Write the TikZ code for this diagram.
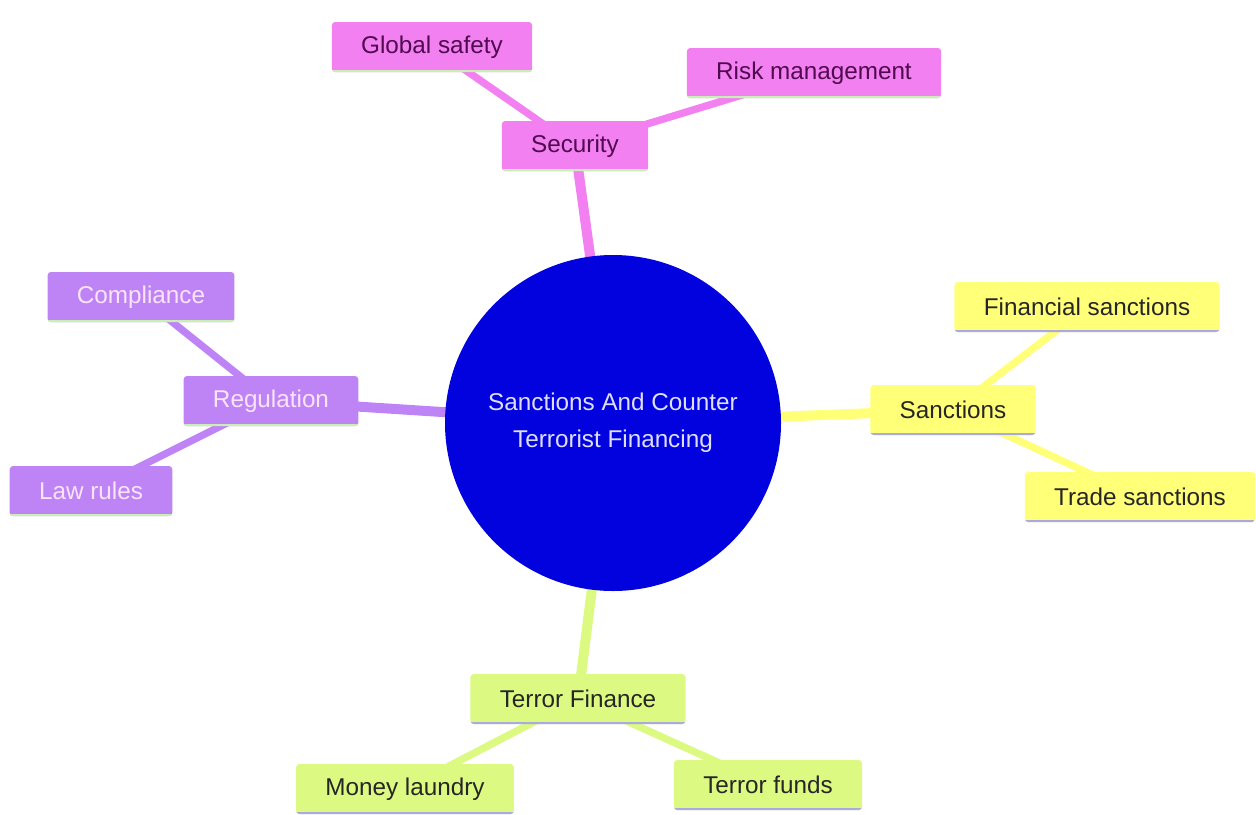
\documentclass[tikz,border=0pt]{standalone}
\usepackage{fontspec}
\setmainfont{Liberation Sans}
\usetikzlibrary{backgrounds}

\definecolor{secpink}{RGB}{242,128,240}
\definecolor{regpurple}{RGB}{190,132,246}
\definecolor{sanyellow}{RGB}{255,255,120}
\definecolor{tergreen}{RGB}{220,250,130}
\definecolor{hubblue}{RGB}{2,2,222}
\definecolor{shadegreen}{RGB}{200,240,180}
\definecolor{shadeblue}{RGB}{170,170,225}

\tikzset{every picture/.style={line width=0.75pt}}
\tikzset{
  topic/.style={rectangle, rounded corners=2.5pt, inner xsep=22pt, minimum height=37.5pt,
    font=\fontsize{18.2}{22}\selectfont},
  shadeline/.style={path picture={\draw[line width=3.5pt,#1]
    (path picture bounding box.south west) -- (path picture bounding box.south east);}},
  sec/.style={topic, fill=secpink, text={rgb,255:red,80;green,10;blue,80}, shadeline=shadegreen},
  reg/.style={topic, fill=regpurple, text={rgb,255:red,250;green,228;blue,250}, shadeline=shadegreen},
  san/.style={topic, fill=sanyellow, text=black!85, shadeline=shadeblue},
  ter/.style={topic, fill=tergreen, text=black!85, shadeline=shadeblue},
  mainlink/.style={line width=7.5pt},
  sublink/.style={line width=5.5pt}
}

\begin{document}
\begin{tikzpicture}[x=0.75pt,y=0.75pt,yscale=-1,xscale=1]
\useasboundingbox (0,0) rectangle (1256,814);

% Hub
\node (hub) [circle, fill=hubblue, minimum size=252pt, align=center,
  text={rgb,255:red,222;green,222;blue,255}, font=\fontsize{18.2}{27.75}\selectfont]
  at (613,423) {Sanctions And Counter\\Terrorist Financing};

% Text Node
\node (security) [sec] at (575,146) {Security};
\node (globalsafety) [sec] at (432,47) {Global safety};
\node (riskmgmt) [sec] at (814,73) {Risk management};
% Text Node
\node (regulation) [reg] at (271,401) {Regulation};
\node (compliance) [reg] at (141,297) {Compliance};
\node (lawrules) [reg] at (91,491) {Law rules};
% Text Node
\node (sanctions) [san] at (953,410) {Sanctions};
\node (finsanctions) [san] at (1087,307) {Financial sanctions};
\node (tradesanctions) [san] at (1140,497) {Trade sanctions};
% Text Node
\node (terrorfinance) [ter] at (578,699) {Terror Finance};
\node (moneylaundry) [ter] at (405,789) {Money laundry};
\node (terrorfunds) [ter] at (768,785) {Terror funds};

%Straight Lines
\begin{pgfonlayer}{background}
\draw [mainlink, secpink] (hub.center) -- (security.center);
\draw [sublink, secpink] (security.center) -- (globalsafety.center);
\draw [sublink, secpink] (security.center) -- (riskmgmt.center);

\draw [mainlink, regpurple] (hub.center) -- (regulation.center);
\draw [sublink, regpurple] (regulation.center) -- (compliance.center);
\draw [sublink, regpurple] (regulation.center) -- (lawrules.center);

\draw [mainlink, sanyellow] (hub.center) -- (sanctions.center);
\draw [sublink, sanyellow] (sanctions.center) -- (finsanctions.center);
\draw [sublink, sanyellow] (sanctions.center) -- (tradesanctions.center);

\draw [mainlink, tergreen] (hub.center) -- (terrorfinance.center);
\draw [sublink, tergreen] (terrorfinance.center) -- (moneylaundry.center);
\draw [sublink, tergreen] (terrorfinance.center) -- (terrorfunds.center);
\end{pgfonlayer}

\end{tikzpicture}
\end{document}
